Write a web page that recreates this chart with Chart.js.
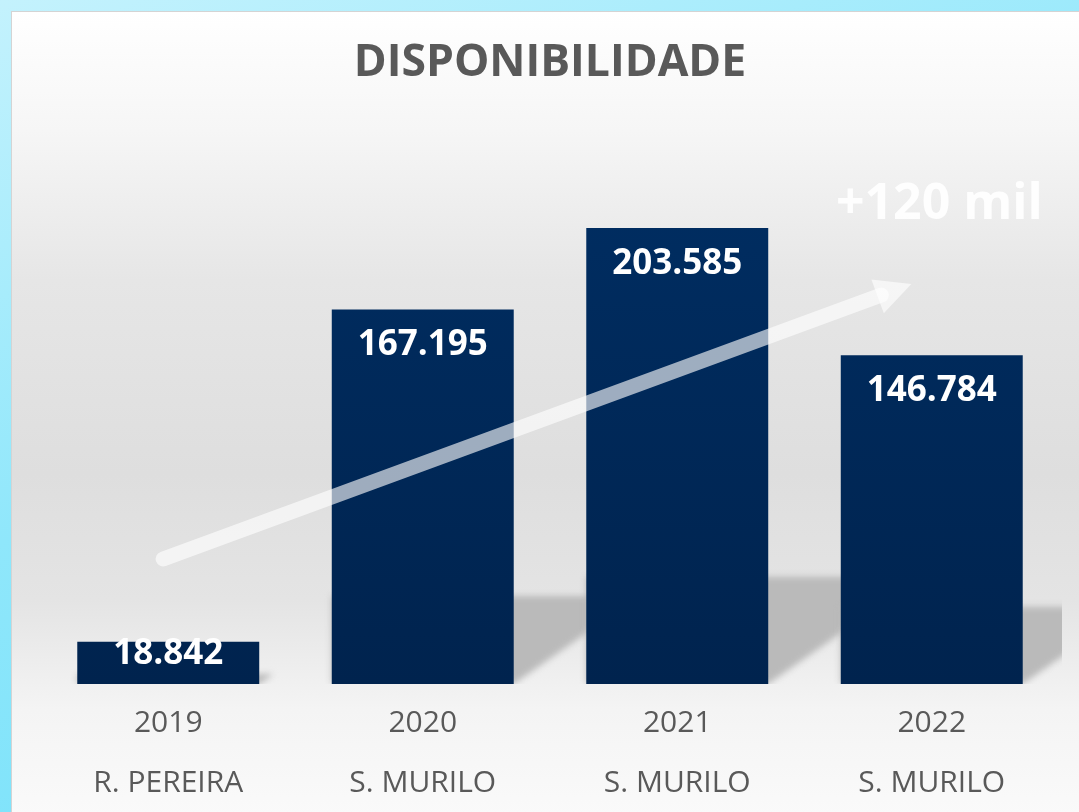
<!DOCTYPE html>
<html lang="pt-BR">
<head>
<meta charset="utf-8">
<title>Disponibilidade</title>
<script src="https://cdn.jsdelivr.net/npm/chart.js@4.4.0/dist/chart.umd.min.js"></script>
<style>
  html, body { margin: 0; padding: 0; }
  body {
    width: 1079px; height: 812px; overflow: hidden; position: relative;
    background: linear-gradient(160deg, #c4f2fd 0%, #8fe7fb 45%, #6ddffa 100%);
  }
  #painel {
    position: absolute; left: 11px; top: 11px; width: 1100px; height: 840px;
    border-left: 1px solid #d4d4d4; border-top: 1px solid #d4d4d4;
    background: linear-gradient(to bottom, #ffffff 0%, #f6f6f6 14%, #e6e6e6 32%, #dedede 55%, #e4e4e4 70%, #f4f4f4 83%, #fcfcfc 100%);
  }
  #grafico { position: absolute; left: 0; top: 0; }
</style>
</head>
<body>
<div id="painel"></div>
<canvas id="grafico" width="1079" height="822"></canvas>
<script>
// Dados do gráfico
const anos = ['2019', '2020', '2021', '2022'];
const gestores = ['R. PEREIRA', 'S. MURILO', 'S. MURILO', 'S. MURILO'];
const disponibilidade = [18842, 167195, 203585, 146784];
const textoSeta = '+120 mil';

// formata 167195 -> 167.195
function formatar(v) {
    return String(v).replace(/\B(?=(\d{3})+(?!\d))/g, '.');
}

// sombra em perspectiva atrás das barras (cortada na área do gráfico)
const sombraPlugin = {
    id: 'sombra',
    beforeDatasetsDraw(chart) {
        const ctx = chart.ctx;
        const area = chart.chartArea;
        const meta = chart.getDatasetMeta(0);
        ctx.save();
        ctx.beginPath();
        ctx.rect(area.left, area.top, area.right - area.left + 3, area.bottom - area.top);
        ctx.clip();
        ctx.filter = 'blur(3px)';
        ctx.fillStyle = '#bababa';
        meta.data.forEach(bar => {
            const h = bar.base - bar.y;
            const esq = bar.x - bar.width / 2;
            const dir = bar.x + bar.width / 2;
            const topo = bar.base - h * 0.235;
            const dx = Math.min(82, h * 0.3);
            ctx.beginPath();
            ctx.moveTo(esq, bar.base);
            ctx.lineTo(dir, bar.base);
            ctx.lineTo(dir + dx, bar.base - dx * 0.7);
            ctx.lineTo(dir + dx, topo);
            ctx.lineTo(esq, topo);
            ctx.closePath();
            ctx.fill();
        });
        ctx.restore();
    }
};

// seta de tendência, rótulos das barras e texto "+120 mil"
const extrasPlugin = {
    id: 'extras',
    afterDatasetsDraw(chart) {
        const ctx = chart.ctx;
        const x = chart.scales.x;
        const y = chart.scales.y;
        const meta = chart.getDatasetMeta(0);

        // seta
        const x0 = x.getPixelForValue(-0.02), y0 = y.getPixelForValue(55800);
        const x1 = x.getPixelForValue(2.92), y1 = y.getPixelForValue(178600);
        const ang = Math.atan2(y1 - y0, x1 - x0);
        const ux = Math.cos(ang), uy = Math.sin(ang);
        const cab = 36;
        ctx.save();
        ctx.globalAlpha = 0.62;
        ctx.strokeStyle = '#ffffff';
        ctx.fillStyle = '#ffffff';
        ctx.lineWidth = 15;
        ctx.lineCap = 'round';
        ctx.beginPath();
        ctx.moveTo(x0, y0);
        ctx.lineTo(x1 - ux * (cab - 4), y1 - uy * (cab - 4));
        ctx.stroke();
        ctx.beginPath();
        ctx.moveTo(x1, y1);
        ctx.lineTo(x1 - ux * cab - uy * 18, y1 - uy * cab + ux * 18);
        ctx.lineTo(x1 - ux * cab + uy * 18, y1 - uy * cab - ux * 18);
        ctx.closePath();
        ctx.fill();
        ctx.restore();

        // rótulos dentro das barras
        ctx.save();
        ctx.fillStyle = '#ffffff';
        ctx.font = 'bold 35px "Open Sans", sans-serif';
        ctx.textAlign = 'center';
        ctx.textBaseline = 'middle';
        meta.data.forEach((bar, i) => {
            const h = bar.base - bar.y;
            const pos = h < 70 ? bar.y + 12 : bar.y + 36;
            ctx.fillText(formatar(disponibilidade[i]), bar.x, pos);
        });

        // texto da seta
        ctx.font = 'bold 50px "Open Sans", sans-serif';
        ctx.globalAlpha = 0.9;
        ctx.fillText(textoSeta, x.getPixelForValue(3.03), y.getPixelForValue(214000));
        ctx.restore();
    }
};

const canvas = document.getElementById('grafico');
const ctxG = canvas.getContext('2d');
const gradBarra = ctxG.createLinearGradient(0, 150, 0, 683);
gradBarra.addColorStop(0, '#002e63');
gradBarra.addColorStop(1, '#00234e');

new Chart(canvas, {
    type: 'bar',
    data: {
        labels: anos.map((a, i) => [a, gestores[i]]),
        datasets: [{
            label: 'Disponibilidade',
            data: disponibilidade,
            backgroundColor: gradBarra,
            borderWidth: 0,
            categoryPercentage: 1,
            barPercentage: 0.715
        }]
    },
    options: {
        responsive: false,
        animation: false,
        layout: {
            padding: { left: 41, right: 20, top: 0, bottom: 0 }
        },
        plugins: {
            legend: { display: false },
            tooltip: { enabled: false },
            title: {
                display: true,
                text: 'DISPONIBILIDADE',
                color: '#595959',
                font: { family: '"Open Sans", sans-serif', size: 44.5, weight: 'bold', lineHeight: 1.2 },
                padding: { top: 37, bottom: 56 }
            }
        },
        scales: {
            x: {
                grid: { display: false, drawTicks: false },
                border: { display: false },
                ticks: {
                    color: '#595959',
                    padding: 9,
                    font: { family: '"Open Sans", sans-serif', size: 30, lineHeight: 2 }
                }
            },
            y: {
                display: false,
                min: 0,
                max: 240000
            }
        }
    },
    plugins: [sombraPlugin, extrasPlugin]
});
</script>
</body>
</html>
